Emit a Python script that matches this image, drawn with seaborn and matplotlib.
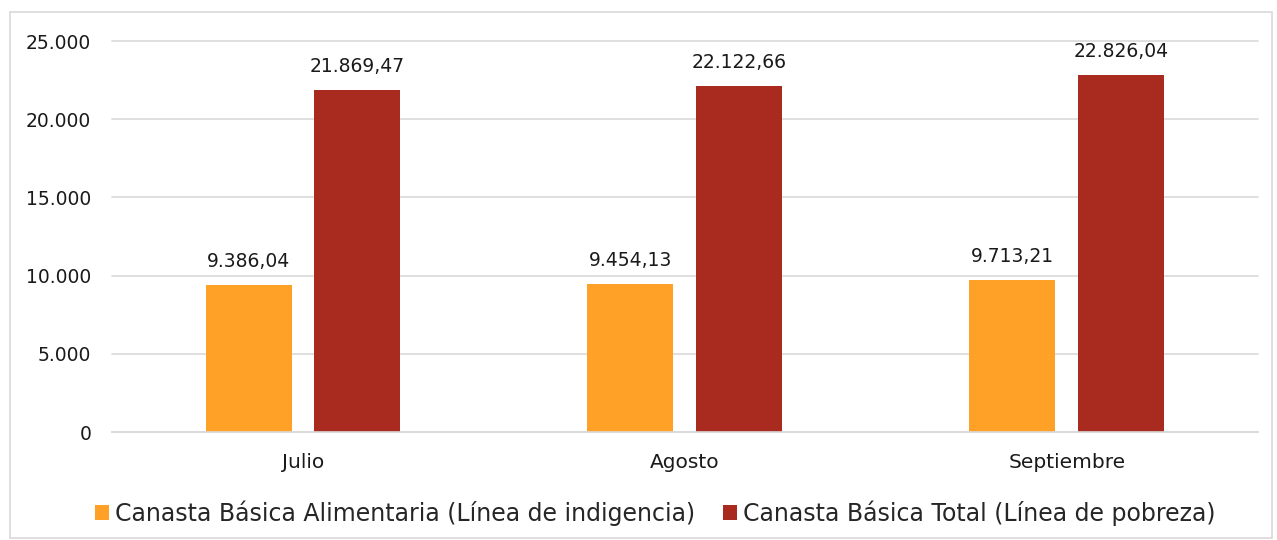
import pandas as pd
import matplotlib
matplotlib.use("Agg")
import matplotlib.pyplot as plt
import seaborn as sns
from matplotlib.patches import Rectangle

months = ["Julio", "Agosto", "Septiembre"]
series_names = [
    "Canasta Básica Alimentaria (Línea de indigencia)",
    "Canasta Básica Total (Línea de pobreza)",
]
cba_values = [9386.04, 9454.13, 9713.21]
cbt_values = [21869.47, 22122.66, 22826.04]
y_ticks = [0, 5000, 10000, 15000, 20000, 25000]
colors = ["#FFA126", "#A92A1F"]


def es_number(v, decimals=2):
    # spanish format: 21.869,47
    s = f"{v:,.{decimals}f}"
    return s.replace(",", "X").replace(".", ",").replace("X", ".")


df = pd.DataFrame({
    "Mes": months * 2,
    "Serie": [series_names[0]] * 3 + [series_names[1]] * 3,
    "Valor": cba_values + cbt_values,
})

sns.set_theme(style="white")
plt.rcParams["font.family"] = ["DejaVu Sans"]

fig = plt.figure(figsize=(12.77, 5.40), dpi=100)
ax = fig.add_axes([0.0877, 0.2, 0.985 - 0.0877, 0.724])

sns.barplot(data=df, x="Mes", y="Valor", hue="Serie", palette=colors,
            width=0.57, gap=0.21, saturation=1, ax=ax, legend=True,
            edgecolor="none")

for cont in ax.containers:
    ax.bar_label(cont, labels=[es_number(v) for v in cont.datavalues],
                 padding=10, fontsize=13.5, color="#1a1a1a")

ax.set_ylim(0, 25000)
ax.set_xlim(-0.5, 2.5)
ax.set_yticks(y_ticks)
ax.set_yticklabels([es_number(t, 0) for t in y_ticks], fontsize=13.5, color="#1a1a1a")
ax.tick_params(axis="x", labelsize=14.5, labelcolor="#1a1a1a", pad=9)
ax.tick_params(axis="y", pad=15, length=0)
ax.set_xlabel("")
ax.set_ylabel("")
ax.grid(axis="y", color="#d9d9d9", linewidth=1.2)
for gl in ax.get_ygridlines():
    gl.set_clip_on(False)
ax.set_axisbelow(True)
for side in ["top", "right", "left"]:
    ax.spines[side].set_visible(False)
ax.spines["bottom"].set_color("#d9d9d9")
ax.spines["bottom"].set_linewidth(1.2)

handles, labels = ax.get_legend_handles_labels()
ax.legend(handles, labels, loc="center", bbox_to_anchor=(0.513, 0.05),
          bbox_transform=fig.transFigure, ncol=2, frameon=False,
          fontsize=17, handlelength=0.6, handleheight=0.6,
          handletextpad=0.25, columnspacing=1.2)

fig.patches.append(Rectangle((10 / 1277, 0.004), 1262 / 1277, 1 - 12 / 540 - 0.004,
                             transform=fig.transFigure, fill=False,
                             edgecolor="#d9d9d9", linewidth=1.2))

fig.savefig("out.png", dpi=100)
